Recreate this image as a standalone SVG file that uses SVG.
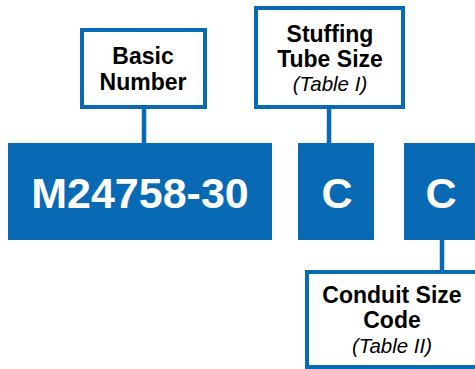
<svg xmlns="http://www.w3.org/2000/svg" width="475" height="369" viewBox="0 0 475 369">
<style>
.blk{fill:#0869B4}
.lbl{fill:#fff;stroke:#0869B4;stroke-width:4}
.big{font-family:"Liberation Sans",Arial,sans-serif;font-weight:bold;font-size:43px;fill:#fff;text-anchor:middle}
.t{font-family:"Liberation Sans",Arial,sans-serif;font-weight:bold;font-size:23px;fill:#000;text-anchor:middle}
.i{font-family:"Liberation Sans",Arial,sans-serif;font-style:italic;font-size:20.5px;fill:#000;text-anchor:middle}
.con{stroke:#0869B4;stroke-width:4.5;fill:none}
</style>
<rect width="475" height="369" fill="#fff"/>
<g id="connectors">
<line class="con" x1="144" y1="107" x2="144" y2="143"/>
<line class="con" x1="329" y1="107" x2="329" y2="143"/>
<line class="con" x1="442" y1="240" x2="442" y2="272"/>
</g>
<g id="basic-number-code">
<rect class="blk" x="8" y="143" width="264" height="97"/>
<text class="big" x="140" y="207.5">M24758-30</text>
</g>
<g id="stuffing-code">
<rect class="blk" x="298" y="143" width="76" height="97"/>
<text class="big" x="337" y="207.5">C</text>
</g>
<g id="conduit-code">
<rect class="blk" x="404" y="143" width="80" height="97"/>
<text class="big" x="441" y="207.5">C</text>
</g>
<g id="basic-number">
<rect class="lbl" x="82" y="30" width="123" height="77"/>
<text class="t" x="143" y="64">Basic</text>
<text class="t" x="143" y="90">Number</text>
</g>
<g id="stuffing-tube-size">
<rect class="lbl" x="256" y="8" width="147" height="99"/>
<text class="t" x="330" y="42">Stuffing</text>
<text class="t" x="330" y="67">Tube Size</text>
<text class="i" x="330" y="91">(Table I)</text>
</g>
<g id="conduit-size-code">
<rect class="lbl" x="307" y="272" width="200" height="95"/>
<text class="t" x="392" y="303">Conduit Size</text>
<text class="t" x="392" y="328">Code</text>
<text class="i" x="392" y="353">(Table II)</text>
</g>
</svg>
